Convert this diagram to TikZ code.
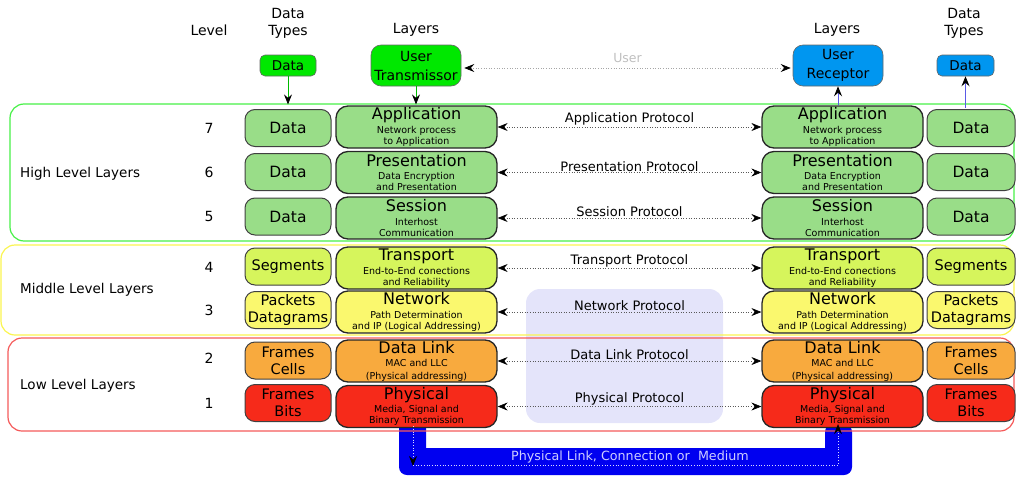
\documentclass[tikz,border=0pt]{standalone}
\usepackage{fontspec}
\setmainfont{DejaVu Sans}
\usetikzlibrary{arrows.meta}
\definecolor{cgreen}{RGB}{153,221,136}
\definecolor{cyg}{RGB}{214,245,92}
\definecolor{cyel}{RGB}{250,248,110}
\definecolor{cora}{RGB}{248,170,62}
\definecolor{cred}{RGB}{246,42,26}
\definecolor{cbright}{RGB}{0,232,0}
\definecolor{cblue}{RGB}{0,150,240}
\definecolor{gbord}{RGB}{70,240,70}
\definecolor{ybord}{RGB}{250,245,80}
\definecolor{rbord}{RGB}{245,90,90}
\definecolor{band}{RGB}{0,0,240}
\definecolor{lav}{RGB}{228,228,250}
\definecolor{bandtext}{RGB}{205,205,255}
\definecolor{upblue}{RGB}{90,90,230}
\newcommand\fs[2]{\fontsize{#1}{#2}\selectfont}
\begin{document}
\begin{tikzpicture}[x=1pt,y=-1pt,
  >={Stealth[length=10pt,width=8pt,inset=3.5pt,color=black]},
  lay/.style={draw=black!85, line width=1.3pt, rounded corners=12pt, minimum width=161pt, minimum height=42pt, align=center, inner sep=0pt, font=\fs{9.5}{11}},
  dat/.style={draw=black!75, line width=1pt, rounded corners=10pt, minimum width=86pt, minimum height=37pt, align=center, inner sep=0pt, font=\fs{14.5}{17}},
  dd/.style={dat, font=\fs{15.5}{17}},
  top/.style={draw=black!60, line width=0.6pt, align=center, inner sep=0pt},
  grp/.style={line width=1.2pt, rounded corners=14pt, inner sep=0pt},
  hdr/.style={font=\fs{14}{17}, align=center, inner sep=0pt},
  lvl/.style={font=\fs{14}{17}, inner sep=0pt},
  glab/.style={font=\fs{13.5}{15}, anchor=west, inner sep=0pt},
  proto/.style={<->, dotted, draw=black!65, line width=0.6pt},
  plab/.style={above=1pt, font=\fs{13}{15}, inner sep=0pt, text=black}
]
\useasboundingbox (0,0) rectangle (1016,479);

% blue band (physical medium)
\fill[band, rounded corners=8pt] (399,424) -- (399,475) -- (852,475) -- (852,424) -- (825,424)
  [sharp corners] -- (825,448) -- (426,448) -- (426,424) -- cycle;

% lavender area
\node[fill=lav, rounded corners=14pt, minimum width=197pt, minimum height=134pt, inner sep=0pt] (lavbox) at (624.5,356) {};

% groups
\node[grp, draw=gbord, minimum width=1004pt, minimum height=137pt] (hi) at (512,172.5) {};
\node[grp, draw=ybord, minimum width=1013pt, minimum height=90pt] (mid) at (507.5,290) {};
\node[grp, draw=rbord, minimum width=1006pt, minimum height=93pt] (lo) at (511,384.5) {};

\node[glab] (ghi) at (20,174) {High Level Layers};
\node[glab] (gmid) at (20,290) {Middle Level Layers};
\node[glab] (glo) at (20,386) {Low Level Layers};

% headers
\node[hdr] (hlev) at (209,30) {Level};
\node[hdr] (hdl) at (288,23) {Data\\Types};
\node[hdr] (hll) at (416,30) {Layers};
\node[hdr] (hlr) at (837,30) {Layers};
\node[hdr] (hdr2) at (964,23) {Data\\Types};

% top nodes
\node[top, fill=cbright, rounded corners=5pt, minimum width=56pt, minimum height=21pt, font=\fs{13.5}{16}] (dtl) at (288,65.5) {Data};
\node[top, fill=cbright, rounded corners=10pt, minimum width=90pt, minimum height=41pt, font=\fs{14}{19}] (ut) at (416,65.5) {User\\Transmissor};
\node[top, fill=cblue, rounded corners=10pt, minimum width=90pt, minimum height=41pt, font=\fs{14}{19}] (ur) at (838,65.5) {User\\Receptor};
\node[top, fill=cblue, rounded corners=5pt, minimum width=57pt, minimum height=21pt, font=\fs{13.5}{16}] (dtr) at (965.5,65.5) {Data};

% level numbers
\node[lvl] (n7) at (209,128) {7};
\node[lvl] (n6) at (209,172) {6};
\node[lvl] (n5) at (209,216) {5};
\node[lvl] (n4) at (209,267) {4};
\node[lvl] (n3) at (209,310) {3};
\node[lvl] (n2) at (209,358) {2};
\node[lvl] (n1) at (209,403) {1};

% left data column
\node[dd, fill=cgreen] (ld7) at (288,128) {Data};
\node[dd, fill=cgreen] (ld6) at (288,172) {Data};
\node[dd, fill=cgreen] (ld5) at (288,216.5) {Data};
\node[dat, fill=cyg] (ld4) at (288,266.5) {Segments};
\node[dat, fill=cyel] (ld3) at (288,310) {Packets\\Datagrams};
\node[dat, fill=cora] (ld2) at (288,360.5) {Frames\\Cells};
\node[dat, fill=cred] (ld1) at (288,403) {Frames\\Bits};

% right data column
\node[dd, fill=cgreen, minimum width=88pt] (rd7) at (971,128) {Data};
\node[dd, fill=cgreen, minimum width=88pt] (rd6) at (971,172) {Data};
\node[dd, fill=cgreen, minimum width=88pt] (rd5) at (971,216.5) {Data};
\node[dat, fill=cyg, minimum width=88pt] (rd4) at (971,266.5) {Segments};
\node[dat, fill=cyel, minimum width=88pt] (rd3) at (971,310) {Packets\\Datagrams};
\node[dat, fill=cora, minimum width=88pt] (rd2) at (971,360.5) {Frames\\Cells};
\node[dat, fill=cred, minimum width=88pt] (rd1) at (971,403) {Frames\\Bits};

% layer nodes (left and right)
\foreach \side/\x in {l/416.5, r/842.5}{
\node[lay, fill=cgreen] (\side a7) at (\x,127) {{\fs{16}{16}Application}\\[2.5pt]Network process\\to Application};
\node[lay, fill=cgreen] (\side a6) at (\x,172.5) {{\fs{16}{16}Presentation}\\[2.5pt]Data Encryption\\and Presentation};
\node[lay, fill=cgreen] (\side a5) at (\x,218) {{\fs{16}{16}Session}\\[2.5pt]Interhost\\Communication};
\node[lay, fill=cyg] (\side a4) at (\x,268) {{\fs{16}{16}Transport}\\[2.5pt]End-to-End conections\\and Reliability};
\node[lay, fill=cyel] (\side a3) at (\x,312) {{\fs{16}{16}Network}\\[2.5pt]Path Determination\\and IP (Logical Addressing)};
\node[lay, fill=cora] (\side a2) at (\x,361) {{\fs{16}{16}Data Link}\\[2pt]MAC and LLC\\[2pt](Physical addressing)};
\node[lay, fill=cred] (\side a1) at (\x,406.5) {{\fs{16}{16}Physical}\\[2.5pt]Media, Signal and\\Binary Transmission};
}

% protocol arrows
\draw[proto] (la7.east) -- node[plab] (p7) {Application Protocol} (ra7.west);
\draw[proto] (la6.east) -- node[plab] (p6) {Presentation Protocol} (ra6.west);
\draw[proto] (la5.east) -- node[plab] (p5) {Session Protocol} (ra5.west);
\draw[proto] (la4.east) -- node[plab] (p4) {Transport Protocol} (ra4.west);
\draw[proto] (la3.east) -- node[plab] (p3) {Network Protocol} (ra3.west);
\draw[proto] (la2.east) -- node[plab] (p2) {Data Link Protocol} (ra2.west);
\draw[proto] (la1.east) -- node[plab] (p1) {Physical Protocol} (ra1.west);

% user arrow
\draw[<->, dotted, draw=black!35, line width=0.6pt]
  ([xshift=3pt,yshift=-2.5pt]ut.east) -- node[above=5pt, font=\fs{12.5}{15}, text=black!25, inner sep=0pt] (ulab) {User} ([xshift=-2pt,yshift=-2.5pt]ur.west);

% vertical arrows at top
\draw[draw=cbright!80!black, line width=0.8pt, ->] (dtl.south) -- ([yshift=-1pt]dtl.south |- hi.north);
\draw[draw=cbright!80!black, line width=0.8pt, ->] (ut.south) -- ([yshift=-1pt]ut.south |- hi.north);
\draw[draw=upblue, line width=0.8pt, ->] (ur.south |- ra7.north) -- (ur.south);
\draw[draw=upblue, line width=0.8pt, ->] ([yshift=1pt]dtr.south |- rd7.north) -- (dtr.south);

% physical medium path
\coordinate (pl0) at (la1.south -| 413,0);
\coordinate (pl1) at (413,465);
\coordinate (pr1) at (838,465);
\coordinate (pr0) at (ra1.south -| 838,0);
\draw[dotted, draw=white!85!blue, line width=0.7pt, ->] ([yshift=2pt]pl0) -- ([yshift=-1pt]pl1);
\draw[dotted, draw=white!85!blue, line width=0.7pt, ->] (pl1) -- (pr1) -- ([yshift=4pt]pr0);
\node[font=\fs{12.7}{15}, text=bandtext, inner sep=0pt] (medium) at (630,457) {Physical Link, Connection or\ \ Medium};
\end{tikzpicture}
\end{document}
